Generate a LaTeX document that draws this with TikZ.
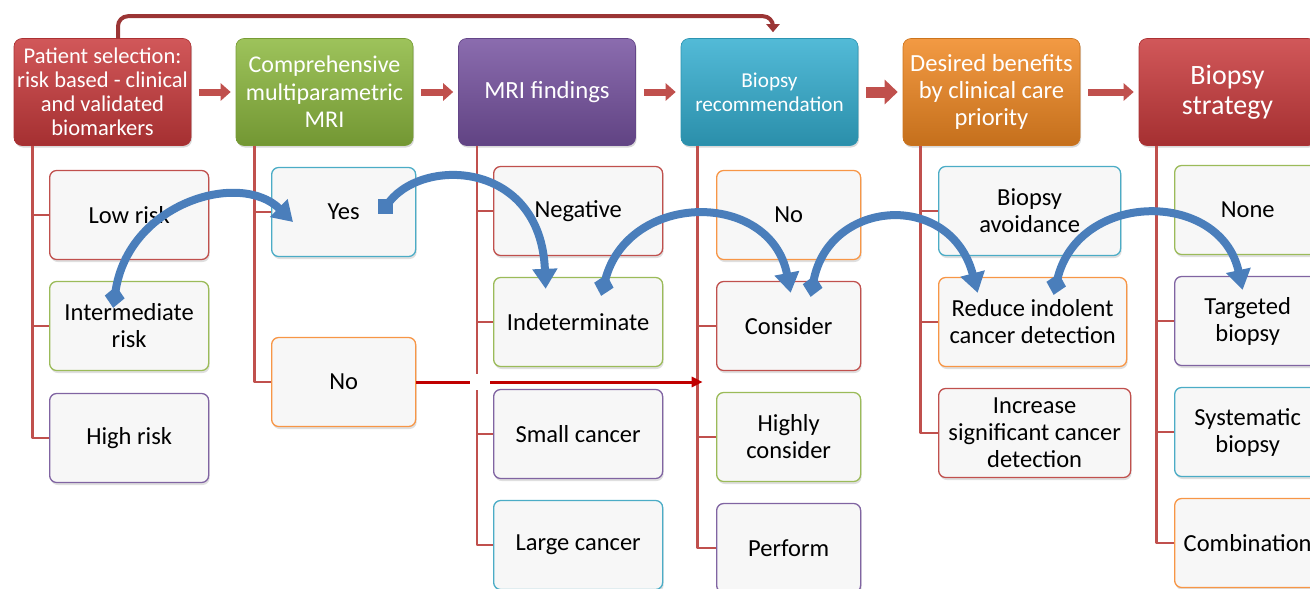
\documentclass[tikz,border=0pt]{standalone}
\usepackage{fontspec}
\setmainfont{Carlito}
\usetikzlibrary{arrows.meta,shadows,calc}

\definecolor{offred}{HTML}{C0504D}
\definecolor{offgreen}{HTML}{9BBB59}
\definecolor{offpurple}{HTML}{8064A2}
\definecolor{offaqua}{HTML}{4BACC6}
\definecolor{offorange}{HTML}{F79646}
\definecolor{offblue}{HTML}{4A7EBB}
\definecolor{hdrred}{HTML}{C93A3C}
\definecolor{hdrgreen}{HTML}{8CB83E}
\definecolor{hdrpurple}{HTML}{7652A0}
\definecolor{hdraqua}{HTML}{34AED0}
\definecolor{hdrorange}{HTML}{F08822}
\definecolor{topred}{HTML}{9B3535}
\definecolor{nored}{HTML}{C00000}
\definecolor{boxfill}{HTML}{F7F7F7}

\begin{document}
\begin{tikzpicture}[x=1pt, y=-1pt, line join=round,
	header/.style={rounded corners=8pt, minimum width=177pt, minimum height=107pt,
		align=center, text=white, inner sep=2pt, line width=0.6pt,
		top color=#1!85!white, bottom color=#1!82!black, draw=#1!85!black,
		drop shadow={opacity=0.3, shadow xshift=1pt, shadow yshift=-2pt}},
	choice/.style={rounded corners=7pt, minimum height=89pt, anchor=west,
		align=center, fill=boxfill, draw=#1, line width=1.3pt, inner sep=3pt,
		font=\fontsize{24.5}{27}\selectfont,
		drop shadow={opacity=0.25, shadow xshift=1pt, shadow yshift=-2.5pt}},
	branch/.style={offred, line width=2.5pt},
	flow/.style={offred, line width=7pt, -{Triangle[width=17pt,length=10pt]},
		shorten <=8pt, shorten >=5pt},
	jump/.style={offblue, line width=8pt,
		{Diamond[width=20pt,length=22pt]}-{Triangle[width=24pt,length=20pt]}},
	overlink/.style={topred, line width=4pt, rounded corners=10pt,
		-{Triangle[width=13pt,length=8pt]}, shorten >=6pt},
	skiplink/.style={nored, line width=3pt, -{Triangle[width=10pt,length=11pt]}}]
	
	\useasboundingbox (0,0) rectangle (1310,589);
	
	% top row
	\node [header=hdrred, font=\fontsize{22.5}{24}\selectfont] (patient) at (102.5,92)
	{Patient selection:\\risk based - clinical\\and validated\\biomarkers};
	\node [header=hdrgreen, font=\fontsize{24}{27.5}\selectfont] (compr) at (324.5,92)
	{Comprehensive\\multiparametric\\MRI};
	\node [header=hdrpurple, font=\fontsize{24.7}{27.5}\selectfont] (mri) at (547,92)
	{MRI findings};
	\node [header=hdraqua, font=\fontsize{21.2}{23.7}\selectfont] (recommend) at (769.5,92)
	{Biopsy\\recommendation};
	\node [header=hdrorange, font=\fontsize{24.6}{27}\selectfont] (benefits) at (991.5,92)
	{Desired benefits\\by clinical care\\priority};
	\node [header=hdrred, font=\fontsize{28}{30}\selectfont] (strategy) at (1227.5,92)
	{Biopsy\\strategy};
	
	\draw [flow] (patient.east) -- (compr.west);
	\draw [flow] (compr.east) -- (mri.west);
	\draw [flow] (mri.east) -- (recommend.west);
	\draw [flow, line width=11pt, -{Triangle[width=24pt,length=13pt]}] 
	(recommend.east) -- (benefits.west);
	\draw [flow] (benefits.east) -- (strategy.west);
	
	\draw [overlink] ([xshift=15.5pt]patient.north) -- ++(0,-22) -| 
	([xshift=3.5pt]recommend.north);
	
	% patient selection
	\node [choice=offred, minimum width=159pt] (low) at (49,215) {Low risk};
	\node [choice=offgreen, minimum width=159pt] (inter) at (49,326) {Intermediate\\risk};
	\node [choice=offpurple, minimum width=159pt] (high) at (49,438) {High risk};
	
	% mpMRI
	\node [choice=offaqua, minimum width=144pt] (yes) at (271,212) {Yes};
	\node [choice=offorange, minimum width=144pt] (no) at (271,382) {No};
	
	% findings
	\node [choice=offred, minimum width=169pt] (negative) at (493,211) {Negative};
	\node [choice=offgreen, minimum width=169pt] (indet) at (493,322) {Indeterminate};
	\node [choice=offpurple, minimum width=169pt] (small) at (493,434) {Small cancer};
	\node [choice=offaqua, minimum width=169pt] (large) at (493,545) {Large cancer};
	
	% recommendation
	\node [choice=offorange, minimum width=144pt] (recno) at (716,215) {No};
	\node [choice=offred, minimum width=144pt] (consider) at (716,326) {Consider};
	\node [choice=offgreen, minimum width=144pt] (highly) at (716,437) {Highly\\consider};
	\node [choice=offpurple, minimum width=144pt] (perform) at (716,548) {Perform};
	
	% benefits
	\node [choice=offaqua, minimum width=182pt] (avoid) at (938,211) {Biopsy\\avoidance};
	\node [choice=offorange, minimum width=188pt] (reduce) at (938,322) 
	{Reduce indolent\\cancer detection};
	\node [choice=offred, minimum width=192pt] (increase) at (938,433) 
	{Increase\\significant cancer\\detection};
	
	% strategy
	\node [choice=offgreen, minimum width=146pt] (none) at (1174,210) {None};
	\node [choice=offpurple, minimum width=146pt] (targeted) at (1174,321) {Targeted\\biopsy};
	\node [choice=offaqua, minimum width=146pt] (systematic) at (1174,432) {Systematic\\biopsy};
	\node [choice=offorange, minimum width=146pt] (combination) at (1174,543) {Combination};
	
	% tree lines
	\foreach \c in {low,inter,high}
	\draw [branch] ([xshift=19pt]patient.south west) |- (\c.west);
	\foreach \c in {yes,no}
	\draw [branch] ([xshift=19pt]compr.south west) |- (\c.west);
	\foreach \c in {negative,indet,small,large}
	\draw [branch] ([xshift=19pt]mri.south west) |- (\c.west);
	\foreach \c in {recno,consider,highly,perform}
	\draw [branch] ([xshift=17pt]recommend.south west) |- (\c.west);
	\foreach \c in {avoid,reduce,increase}
	\draw [branch] ([xshift=18pt]benefits.south west) |- (\c.west);
	\foreach \c in {none,targeted,systematic,combination}
	\draw [branch] ([xshift=18pt]strategy.south west) |- (\c.west);
	
	% no mpMRI
	\draw [skiplink] (no.east) -- ($(no.east -| recommend.south west)+(22,0)$);
	\fill [white] ($(no.east -| mri.south west)+(12,-8)$) rectangle +(20,16);
	
	% jumps
	\draw [jump] ([shift={(-16,27)}]inter.north) .. controls +(15,-105) and +(-53,-52) .. 
	([shift={(22,10)}]yes.west);
	\draw [jump, {Square[length=15pt]}-{Triangle[width=24pt,length=20pt]}] 
	([shift={(-38,-6)}]yes.east) -- ++(8,0) .. controls +(32,-50) and +(-5,-130) .. 
	([shift={(-32.5,12)}]indet.north);
	\draw [jump] ([shift={(23,19)}]indet.north) .. controls +(27,-105) and +(-20,-103) .. 
	([shift={(2,12)}]consider.north);
	\draw [jump] ([shift={(22,16)}]consider.north) .. controls +(18,-98) and +(-27,-103) .. 
	([shift={(-55,16)}]reduce.north);
	\draw [jump] ([shift={(21,18)}]reduce.north) .. controls +(25,-105) and +(-22,-100) .. 
	([shift={(-5,14)}]targeted.north);
	
\end{tikzpicture}
\end{document}
